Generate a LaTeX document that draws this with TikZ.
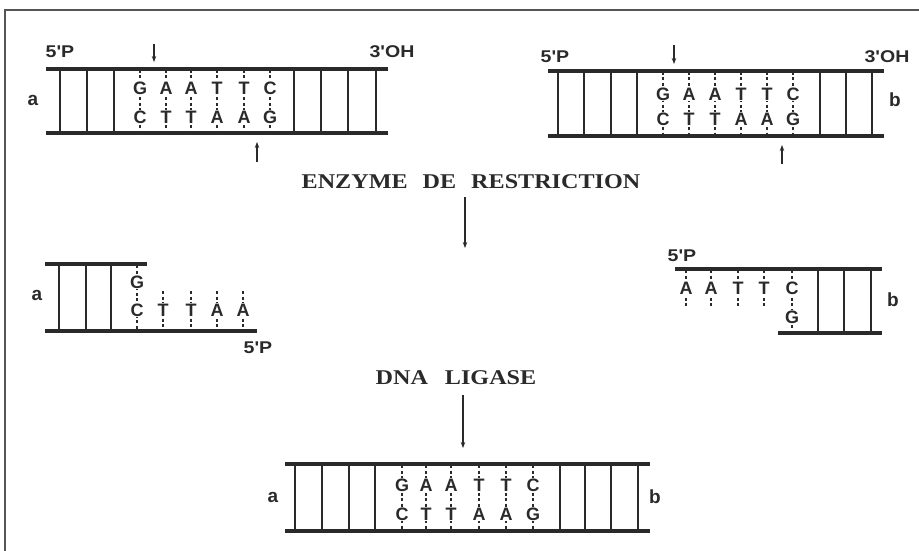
\documentclass[tikz,border=0pt]{standalone}
\usepackage{fontspec}
\setmainfont{Liberation Sans}
\newfontfamily\serifb[FakeStretch=1.15, UprightFont={* Bold}]{Liberation Serif}
\newfontfamily\wide[FakeStretch=1.15, UprightFont={* Bold}]{Liberation Sans}
\usetikzlibrary{arrows.meta}
\definecolor{ink}{HTML}{2A2A2A}
\begin{document}
\begin{tikzpicture}[x=1pt,y=-1pt,
  strand/.style={line width=3.2pt, draw=ink},
  rung/.style={line width=1.6pt, draw=ink},
  hbond/.style={line width=1.3pt, draw=ink, dash pattern=on 3pt off 2.5pt},
  base/.style={font=\bfseries\fontsize{18}{18}\selectfont, fill=white, inner sep=0.4pt, text=ink},
  lbl/.style={font=\wide\fontsize{17}{17}\selectfont, text=ink, inner sep=0pt},
  side/.style={font=\bfseries\fontsize{19}{19}\selectfont, text=ink, inner sep=0pt},
  title/.style={font=\serifb\fontsize{21}{21}\selectfont, text=ink, inner sep=0pt},
  cut/.style={line width=1.2pt, draw=ink, -{Stealth[length=6pt,width=4.5pt]}},
  frame/.style={line width=1.8pt, draw=ink!80}]
\useasboundingbox (0,0) rectangle (919,551);
% frame
\coordinate (f1) at (919,10); \coordinate (f2) at (5,10); \coordinate (f3) at (5,551);
\draw[frame] (f1) -- (f2) -- (f3);

% ---------- helix a (top left) ----------
\coordinate (aTL) at (46,69); \coordinate (aTR) at (388,69);
\coordinate (aBL) at (46,133); \coordinate (aBR) at (388,133);
\foreach \x in {60,87,114,294,321,348,376} \draw[rung] (\x,69) -- (\x,133);
\foreach \x/\t/\b [count=\i] in {140/G/C,166/A/T,191/A/T,217/T/A,244/T/A,270/C/G}{
  \draw[hbond] (\x,70) -- (\x,132);
  \node[base] (at\i) at (\x,88) {\t};
  \node[base] (ab\i) at (\x,117) {\b};
}
\draw[strand] (aTL) -- (aTR);
\draw[strand] (aBL) -- (aBR);
\node[side] (la) at (33,100) {a};
\node[lbl] (a5) at (60,52) {5'P};
\node[lbl] (a3) at (392,52) {3'OH};
\coordinate (ac1) at (154,44); \coordinate (ac2) at (154,62);
\draw[cut] (ac1) -- (ac2);
\coordinate (ac3) at (257,162); \coordinate (ac4) at (257,142);
\draw[cut] (ac3) -- (ac4);

% ---------- helix b (top right) ----------
\coordinate (bTL) at (548,71); \coordinate (bTR) at (884,71);
\coordinate (bBL) at (548,136); \coordinate (bBR) at (884,136);
\foreach \x in {558,584,611,637,820,846,872} \draw[rung] (\x,71) -- (\x,136);
\foreach \x/\t/\b [count=\i] in {663/G/C,689/A/T,715/A/T,741/T/A,767/T/A,793/C/G}{
  \draw[hbond] (\x,72) -- (\x,135);
  \node[base] (bt\i) at (\x,94) {\t};
  \node[base] (bb\i) at (\x,119) {\b};
}
\draw[strand] (bTL) -- (bTR);
\draw[strand] (bBL) -- (bBR);
\node[side] (lb) at (895,100) {b};
\node[lbl] (b5) at (555,57) {5'P};
\node[lbl] (b3) at (887,57) {3'OH};
\coordinate (bc1) at (674,45); \coordinate (bc2) at (674,64);
\draw[cut] (bc1) -- (bc2);
\coordinate (bc3) at (782,164); \coordinate (bc4) at (782,145);
\draw[cut] (bc3) -- (bc4);

% ---------- enzyme ----------
\node[title] (enz) at (471,182) {ENZYME\hspace{15pt}DE\hspace{15pt}RESTRICTION};
\coordinate (e2) at (465,248);
\draw[cut] ([yshift=-8pt]enz.south -| e2) -- (e2);

% ---------- fragment a ----------
\foreach \x in {59,86,111} \draw[rung] (\x,264) -- (\x,331);
\draw[hbond] (137,265) -- (137,330);
\node[base] (fag) at (137,282) {G};
\node[base] (fac) at (137,310) {C};
\foreach \x/\b [count=\i] in {163/T,191/T,217/A,243/A}{
  \draw[hbond] (\x,291) -- (\x,330);
  \node[base] (fa\i) at (\x,310) {\b};
}
\coordinate (faTL) at (45,264); \coordinate (faTR) at (147,264);
\coordinate (faBL) at (45,331); \coordinate (faBR) at (257,331);
\draw[strand] (faTL) -- (faTR);
\draw[strand] (faBL) -- (faBR);
\node[side] (fla) at (37,295) {a};
\node[lbl] (fa5) at (258,348) {5'P};

% ---------- fragment b ----------
\foreach \x in {818,844,871} \draw[rung] (\x,269) -- (\x,333);
\draw[hbond] (792,270) -- (792,332);
\node[base] (fbc) at (792,288) {C};
\node[base] (fbg) at (792,317) {G};
\foreach \x/\b [count=\i] in {686/A,711/A,738/T,764/T}{
  \draw[hbond] (\x,270) -- (\x,306);
  \node[base] (fb\i) at (\x,288) {\b};
}
\coordinate (fbTL) at (675,269); \coordinate (fbTR) at (882,269);
\coordinate (fbBL) at (778,333); \coordinate (fbBR) at (882,333);
\draw[strand] (fbTL) -- (fbTR);
\draw[strand] (fbBL) -- (fbBR);
\node[side] (flb) at (893,300) {b};
\node[lbl] (fb5) at (682,256) {5'P};

% ---------- ligase ----------
\node[title] (lig) at (456,378) {DNA\hspace{17pt}LIGASE};
\coordinate (l2) at (463,448);
\draw[cut] ([yshift=-10pt]lig.south -| l2) -- (l2);

% ---------- recombinant helix ----------
\coordinate (cTL) at (285,464); \coordinate (cTR) at (650,464);
\coordinate (cBL) at (285,531); \coordinate (cBR) at (650,531);
\foreach \x in {295,322,349,375,560,585,611,638} \draw[rung] (\x,464) -- (\x,531);
\foreach \x/\t/\b [count=\i] in {402/G/C,426/A/T,451/A/T,479/T/A,506/T/A,533/C/G}{
  \draw[hbond] (\x,465) -- (\x,530);
  \node[base] (ct\i) at (\x,485) {\t};
  \node[base] (cb\i) at (\x,514) {\b};
}
\draw[strand] (cTL) -- (cTR);
\draw[strand] (cBL) -- (cBR);
\node[side] (cla) at (273,497) {a};
\node[side] (clb) at (655,497) {b};
\end{tikzpicture}
\end{document}
